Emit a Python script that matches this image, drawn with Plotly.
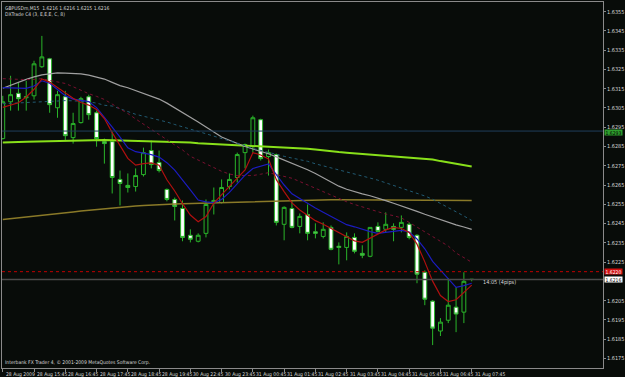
import plotly.graph_objects as go

# ---------------- data ----------------
bars = list(range(61))

open_ = [1.62891, 1.63082, 1.63126, 1.63103, 1.63113, 1.63264, 1.63305, 1.63051, 1.63108, 1.62896,
         1.62974, 1.63108, 1.63025, 1.62875, 1.62875, 1.62679, 1.62648, 1.62642, 1.62704, 1.62829,
         1.62767, 1.62627, 1.62575, 1.62528, 1.62389, 1.62358, 1.62399, 1.62559, 1.62559, 1.62642,
         1.62689, 1.62818, 1.62849, 1.62989, 1.62798, 1.62808, 1.62446, 1.62528, 1.62435, 1.62497,
         1.62407, 1.62383, 1.62430, 1.62332, 1.62326, 1.62378, 1.62295, 1.62280, 1.62435, 1.62420,
         1.62435, 1.62430, 1.62446, 1.62389, 1.62197, 1.62047, 1.61892, 1.61948, 1.62016, 1.61990,
         1.62160]
high = [1.63113, 1.63217, 1.63181, 1.63191, 1.63295, 1.63424, 1.63310, 1.63139, 1.63139, 1.63025,
        1.63108, 1.63119, 1.63036, 1.62891, 1.62927, 1.62725, 1.62710, 1.62736, 1.62844, 1.62880,
        1.62829, 1.62632, 1.62585, 1.62570, 1.62420, 1.62399, 1.62575, 1.62637, 1.62679, 1.62710,
        1.62818, 1.62865, 1.63010, 1.62994, 1.62834, 1.62813, 1.62539, 1.62570, 1.62502, 1.62549,
        1.62451, 1.62456, 1.62440, 1.62352, 1.62404, 1.62399, 1.62337, 1.62430, 1.62456, 1.62508,
        1.62451, 1.62492, 1.62456, 1.62394, 1.62207, 1.62052, 1.61959, 1.62166, 1.62119, 1.62197,
        1.62160]
low = [1.62886, 1.63036, 1.63036, 1.63036, 1.63093, 1.63258, 1.63025, 1.62999, 1.62880, 1.62865,
       1.62969, 1.62989, 1.62849, 1.62761, 1.62606, 1.62544, 1.62611, 1.62616, 1.62694, 1.62736,
       1.62715, 1.62565, 1.62466, 1.62358, 1.62352, 1.62352, 1.62378, 1.62497, 1.62554, 1.62627,
       1.62663, 1.62736, 1.62818, 1.62777, 1.62699, 1.62440, 1.62363, 1.62425, 1.62399, 1.62363,
       1.62373, 1.62373, 1.62311, 1.62238, 1.62259, 1.62295, 1.62270, 1.62275, 1.62404, 1.62404,
       1.62358, 1.62404, 1.62368, 1.62140, 1.62026, 1.61819, 1.61866, 1.61933, 1.61886, 1.61933,
       1.62150]
close = [1.63082, 1.63119, 1.63098, 1.63108, 1.63279, 1.63315, 1.63067, 1.63119, 1.62906, 1.62969,
         1.63098, 1.63015, 1.62891, 1.62865, 1.62689, 1.62658, 1.62637, 1.62699, 1.62818, 1.62756,
         1.62725, 1.62575, 1.62539, 1.62378, 1.62368, 1.62389, 1.62549, 1.62570, 1.62637, 1.62679,
         1.62808, 1.62860, 1.62999, 1.62787, 1.62818, 1.62456, 1.62534, 1.62430, 1.62487, 1.62399,
         1.62399, 1.62420, 1.62316, 1.62326, 1.62383, 1.62306, 1.62285, 1.62430, 1.62409, 1.62446,
         1.62420, 1.62456, 1.62378, 1.62187, 1.62057, 1.61907, 1.61938, 1.62026, 1.61980, 1.62150,
         1.62160]

ma_lime = [1.62870, 1.62870, 1.62873, 1.62874, 1.62875, 1.62876, 1.62878, 1.62879, 1.62881, 1.62882,
           1.62882, 1.62883, 1.62883, 1.62883, 1.62882, 1.62881, 1.62881, 1.62879, 1.62878, 1.62876,
           1.62875, 1.62874, 1.62873, 1.62871, 1.62870, 1.62867, 1.62865, 1.62862, 1.62860, 1.62859,
           1.62857, 1.62856, 1.62855, 1.62853, 1.62850, 1.62849, 1.62847, 1.62845, 1.62842, 1.62838,
           1.62834, 1.62829, 1.62825, 1.62821, 1.62818, 1.62815, 1.62813, 1.62810, 1.62806, 1.62803,
           1.62800, 1.62797, 1.62793, 1.62790, 1.62786, 1.62782, 1.62774, 1.62767, 1.62760, 1.62753,
           1.62746]
ma_olive = [1.62471, 1.62475, 1.62479, 1.62483, 1.62488, 1.62492, 1.62497, 1.62501, 1.62506, 1.62510,
            1.62515, 1.62519, 1.62524, 1.62527, 1.62531, 1.62535, 1.62538, 1.62541, 1.62543, 1.62546,
            1.62549, 1.62550, 1.62552, 1.62553, 1.62554, 1.62555, 1.62557, 1.62558, 1.62559, 1.62561,
            1.62563, 1.62564, 1.62566, 1.62567, 1.62568, 1.62569, 1.62570, 1.62571, 1.62572, 1.62573,
            1.62573, 1.62573, 1.62573, 1.62573, 1.62573, 1.62573, 1.62573, 1.62572, 1.62572, 1.62572,
            1.62572, 1.62572, 1.62572, 1.62571, 1.62571, 1.62571, 1.62571, 1.62570, 1.62570, 1.62570,
            1.62570]
ma_grey = [1.63152, 1.63168, 1.63184, 1.63198, 1.63211, 1.63222, 1.63227, 1.63232, 1.63231, 1.63229,
           1.63227, 1.63220, 1.63211, 1.63200, 1.63183, 1.63166, 1.63155, 1.63141, 1.63127, 1.63112,
           1.63096, 1.63075, 1.63051, 1.63028, 1.63004, 1.62977, 1.62951, 1.62925, 1.62899, 1.62882,
           1.62865, 1.62850, 1.62837, 1.62826, 1.62812, 1.62796, 1.62780, 1.62763, 1.62748, 1.62729,
           1.62710, 1.62687, 1.62666, 1.62644, 1.62628, 1.62615, 1.62604, 1.62594, 1.62583, 1.62569,
           1.62555, 1.62542, 1.62528, 1.62513, 1.62498, 1.62484, 1.62469, 1.62456, 1.62443, 1.62432,
           1.62420]
ma_teal = [1.63072, 1.63074, 1.63076, 1.63079, 1.63081, 1.63083, 1.63087, 1.63088, 1.63088, 1.63087,
           1.63084, 1.63082, 1.63075, 1.63064, 1.63060, 1.63045, 1.63031, 1.63017, 1.63007, 1.62997,
           1.62989, 1.62977, 1.62964, 1.62951, 1.62940, 1.62928, 1.62916, 1.62904, 1.62892, 1.62878,
           1.62866, 1.62854, 1.62840, 1.62829, 1.62819, 1.62809, 1.62799, 1.62790, 1.62782, 1.62773,
           1.62760, 1.62750, 1.62740, 1.62729, 1.62718, 1.62708, 1.62697, 1.62686, 1.62675, 1.62662,
           1.62648, 1.62634, 1.62620, 1.62606, 1.62593, 1.62576, 1.62555, 1.62534, 1.62513, 1.62489,
           1.62466]
band_maroon = [1.63202, 1.63200, 1.63198, 1.63197, 1.63198, 1.63202, 1.63193, 1.63185, 1.63177, 1.63160,
               1.63140, 1.63124, 1.63110, 1.63094, 1.63070, 1.63047, 1.63021, 1.62993, 1.62965, 1.62938,
               1.62912, 1.62885, 1.62858, 1.62832, 1.62799, 1.62779, 1.62759, 1.62739, 1.62721, 1.62707,
               1.62699, 1.62699, 1.62699, 1.62706, 1.62714, 1.62704, 1.62694, 1.62685, 1.62668, 1.62650,
               1.62633, 1.62616, 1.62598, 1.62580, 1.62563, 1.62549, 1.62536, 1.62523, 1.62510, 1.62499,
               1.62491, 1.62479, 1.62456, 1.62431, 1.62410, 1.62383, 1.62360, 1.62333, 1.62297, 1.62272,
               1.62249]
ma_red = [1.63053, 1.63065, 1.63077, 1.63107, 1.63147, 1.63201, 1.63184, 1.63156, 1.63126, 1.63100,
          1.63078, 1.63065, 1.63042, 1.62995, 1.62922, 1.62853, 1.62788, 1.62753, 1.62761, 1.62765,
          1.62753, 1.62677, 1.62619, 1.62553, 1.62494, 1.62459, 1.62486, 1.62556, 1.62602, 1.62643,
          1.62686, 1.62728, 1.62818, 1.62806, 1.62785, 1.62678, 1.62616, 1.62557, 1.62520, 1.62493,
          1.62465, 1.62446, 1.62425, 1.62400, 1.62379, 1.62360, 1.62352, 1.62374, 1.62392, 1.62417,
          1.62430, 1.62424, 1.62404, 1.62343, 1.62251, 1.62151, 1.62076, 1.62045, 1.62054, 1.62093,
          1.62130]
ma_blue = [1.63155, 1.63153, 1.63151, 1.63152, 1.63164, 1.63191, 1.63178, 1.63144, 1.63114, 1.63096,
           1.63088, 1.63083, 1.63052, 1.63003, 1.62951, 1.62898, 1.62843, 1.62823, 1.62816, 1.62808,
           1.62795, 1.62766, 1.62727, 1.62673, 1.62625, 1.62572, 1.62562, 1.62559, 1.62575, 1.62612,
           1.62659, 1.62701, 1.62736, 1.62749, 1.62759, 1.62704, 1.62650, 1.62604, 1.62579, 1.62554,
           1.62531, 1.62509, 1.62486, 1.62463, 1.62444, 1.62433, 1.62420, 1.62408, 1.62399, 1.62403,
           1.62408, 1.62414, 1.62406, 1.62370, 1.62319, 1.62254, 1.62208, 1.62166, 1.62119, 1.62128,
           1.62140]

tick_bars = [0, 4, 8, 12, 16, 20, 24, 28, 32, 36, 40, 44, 48, 52, 56, 60]
tick_labels = ["28 Aug 2009", "28 Aug 15:45", "28 Aug 16:45", "28 Aug 17:45", "28 Aug 18:45",
               "28 Aug 19:45", "30 Aug 22:45", "30 Aug 23:45", "31 Aug 00:45", "31 Aug 01:45",
               "31 Aug 02:45", "31 Aug 03:45", "31 Aug 04:45", "31 Aug 05:45", "31 Aug 06:45",
               "31 Aug 07:45"]
price_ticks = [1.6175, 1.6185, 1.6195, 1.6205, 1.6225, 1.6235, 1.6245, 1.6255, 1.6265,
               1.6275, 1.6285, 1.6295, 1.6305, 1.6315, 1.6325, 1.6335, 1.6345, 1.6355]

level_blue = 1.6293
level_red = 1.6220
bid = 1.6216

header = "GBPUSDm,M15  1.6216 1.6216 1.6215 1.6216"
indicator_name = "DXTrade C4 (3, E,E,E, C, 8)"
footer = "Interbank FX Trader 4, \u00a9 2001-2009 MetaQuotes Software Corp."
timer_text = "14:05 (4pips)"

# ---------------- style ----------------
BG = "#080c09"
GREEN = "#2ab52a"
FONT = "Liberation Sans Narrow, DejaVu Sans Condensed, Liberation Sans, Arial"
TXT = "#d8d8d8"
FRAME = "#8a8a8a"

fig = go.Figure()

fig.add_trace(go.Candlestick(
    x=bars, open=open_, high=high, low=low, close=close,
    increasing=dict(line=dict(color=GREEN, width=1), fillcolor=BG),
    decreasing=dict(line=dict(color=GREEN, width=1), fillcolor="#ffffff"),
    whiskerwidth=0, showlegend=False, hoverinfo="skip"))

def add_line(vals, color, width, dash="solid"):
    fig.add_trace(go.Scatter(x=bars, y=vals, mode="lines",
                             line=dict(color=color, width=width, dash=dash),
                             showlegend=False, hoverinfo="skip"))

add_line(ma_olive, "#8a7a28", 1.5)
add_line(ma_lime, "#88e01a", 2)
add_line(ma_grey, "#a0a0a0", 1.2)
add_line(ma_teal, "#215a72", 1, "dot")
add_line(band_maroon, "#7a1030", 1, "dot")
add_line(ma_blue, "#1c1cc0", 1.2)
add_line(ma_red, "#b01010", 1.2)

# horizontal levels
fig.add_hline(y=level_blue, line=dict(color="#1f3f5c", width=1))
fig.add_hline(y=level_red, line=dict(color="#c00000", width=1, dash="dot"))
fig.add_hline(y=bid, line=dict(color="#4a4a4a", width=1.5))

annotations = []
for b, lab in zip(tick_bars, tick_labels):
    annotations.append(dict(x=b, y=0, xref="x", yref="paper", text=lab, showarrow=False,
                            xanchor="left", yanchor="top", xshift=1, yshift=-1,
                            font=dict(family=FONT, size=5, color=TXT)))

def price_box(val, bg, fg, shift=0):
    annotations.append(dict(x=1, y=val, xref="paper", yref="y", text=f"{val:.4f}",
                            showarrow=False, xanchor="left", yanchor="middle", xshift=1,
                            yshift=shift, bgcolor=bg, borderpad=0, width=17, height=5,
                            font=dict(family=FONT, size=5, color=fg)))

price_box(level_blue, "#2e9e2e", "#000000", -1)
price_box(level_red, "#d01010", "#ffffff")
price_box(bid, "#ffffff", "#000000")

annotations.append(dict(x=0, y=1, xref="paper", yref="paper", text=header, showarrow=False,
                        xanchor="left", yanchor="top", xshift=1, yshift=-1,
                        font=dict(family=FONT, size=5, color=TXT)))
annotations.append(dict(x=0, y=1, xref="paper", yref="paper", text=indicator_name, showarrow=False,
                        xanchor="left", yanchor="top", xshift=1, yshift=-7,
                        font=dict(family=FONT, size=5, color=TXT)))
annotations.append(dict(x=0, y=0, xref="paper", yref="paper", text=footer, showarrow=False,
                        xanchor="left", yanchor="bottom", xshift=1, yshift=0,
                        font=dict(family=FONT, size=5, color=TXT)))
annotations.append(dict(x=bars[-1], y=bid, xref="x", yref="y", text=timer_text, showarrow=False,
                        xanchor="left", yanchor="middle", xshift=9, yshift=-3,
                        font=dict(family=FONT, size=5.5, color=TXT)))

fig.update_layout(
    width=625, height=377,
    margin=dict(l=2, r=18, t=1, b=9),
    paper_bgcolor=BG, plot_bgcolor=BG,
    showlegend=False,
    annotations=annotations,
    xaxis=dict(range=[-0.1, 76.8], rangeslider=dict(visible=False), showgrid=False,
               zeroline=False, showline=True, mirror=True, linecolor=FRAME, linewidth=1,
               tickvals=tick_bars, ticktext=[""] * len(tick_bars), ticks="outside",
               ticklen=3, tickcolor=FRAME, fixedrange=True),
    yaxis=dict(range=[1.6170, 1.6360], side="right", showgrid=False, zeroline=False,
               showline=True, mirror=True, linecolor=FRAME, linewidth=1,
               tickvals=price_ticks, ticktext=[f"{v:.4f}" for v in price_ticks],
               ticks="outside", ticklen=2, tickcolor=FRAME,
               tickfont=dict(family=FONT, size=5.5, color=TXT), fixedrange=True),
)

fig.write_html("out.html")
